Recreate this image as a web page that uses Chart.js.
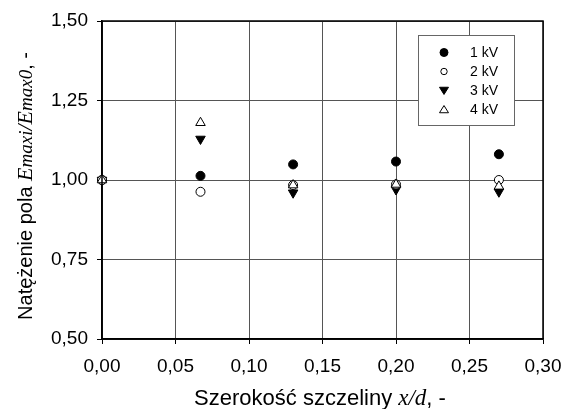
<!DOCTYPE html>
<html>
<head>
<meta charset="utf-8">
<script src="https://cdn.jsdelivr.net/npm/chart.js@4/dist/chart.umd.min.js"></script>
<style>
    body { margin: 0; background: #fff; }
    #wrap { width: 564px; height: 409px; }
</style>
</head>
<body>
<div id="wrap"><canvas id="fieldChart" width="564" height="409"></canvas></div>
<script>
// Gap width x/d and relative field strength for each voltage
const gapWidth = [0, 0.067, 0.13, 0.2, 0.27];
const kv1 = [1.00, 1.013, 1.049, 1.058, 1.081];
const kv2 = [1.00, 0.963, 0.984, 0.986, 1.00];
const kv3 = [1.00, 1.129, 0.960, 0.970, 0.963];
const kv4 = [1.00, 1.180, 0.984, 0.986, 0.980];
const seriesLabels = ['1 kV', '2 kV', '3 kV', '4 kV'];

const sans = "'Liberation Sans', Arial, sans-serif";
const serif = "'Liberation Serif', 'Times New Roman', serif";

// order: open markers are drawn over filled ones
const markers = [
    { pointStyle: 'circle', rotation: 0, fill: '#000', radius: 4.5, order: 4, legendR: 4 },
    { pointStyle: 'circle', rotation: 0, fill: '#fff', radius: 4.5, order: 2, legendR: 3.2 },
    { pointStyle: 'triangle', rotation: 180, fill: '#000', radius: 5.5, order: 3, legendR: 4.5 },
    { pointStyle: 'triangle', rotation: 0, fill: '#fff', radius: 5.5, order: 1, legendR: 4.5 }
];

function toPoints(values) {
    return values.map((v, i) => ({ x: gapWidth[i], y: v }));
}

const comma = v => v.toFixed(2).replace('.', ',');

// Draw a sequence of text runs with their own fonts, centred on x
function drawRuns(ctx, runs, x, y) {
    let total = 0;
    runs.forEach(r => { ctx.font = r.font; total += ctx.measureText(r.text).width; });
    let cx = x - total / 2;
    runs.forEach(r => {
        ctx.font = r.font;
        ctx.fillText(r.text, cx, y);
        cx += ctx.measureText(r.text).width;
    });
}

function drawMarker(ctx, m, x, y, r) {
    ctx.save();
    ctx.fillStyle = m.fill;
    ctx.strokeStyle = '#000';
    ctx.lineWidth = 1;
    ctx.beginPath();
    if (m.pointStyle === 'circle') {
        ctx.arc(x, y, r, 0, Math.PI * 2);
    } else {
        const dir = m.rotation === 180 ? -1 : 1;
        const h = r * 1.6;
        ctx.moveTo(x, y - dir * h * 0.55);
        ctx.lineTo(x - r, y + dir * h * 0.45);
        ctx.lineTo(x + r, y + dir * h * 0.45);
        ctx.closePath();
    }
    ctx.fill();
    ctx.stroke();
    ctx.restore();
}

const framePlugin = {
    id: 'frameAndText',
    afterDraw(chart) {
        const ctx = chart.ctx;
        const a = chart.chartArea;
        ctx.save();
        // frame
        ctx.strokeStyle = '#000';
        ctx.lineWidth = 1.5;
        ctx.strokeRect(a.left, a.top, a.right - a.left, a.bottom - a.top);

        // legend box
        const lx = 418, ly = 35, lw = 96, lh = 90;
        ctx.fillStyle = '#fff';
        ctx.fillRect(lx, ly, lw, lh);
        ctx.strokeStyle = '#666';
        ctx.lineWidth = 1;
        ctx.strokeRect(lx + 0.5, ly + 0.5, lw, lh);
        ctx.textBaseline = 'middle';
        ctx.textAlign = 'left';
        ctx.font = '14px ' + sans;
        seriesLabels.forEach((lab, i) => {
            const yy = 52.5 + i * 19;
            drawMarker(ctx, markers[i], 444, yy, markers[i].legendR);
            ctx.fillStyle = '#000';
            ctx.fillText(lab, 470, yy + 1);
        });

        // axis titles
        ctx.fillStyle = '#000';
        ctx.textAlign = 'left';
        ctx.textBaseline = 'alphabetic';
        drawRuns(ctx, [
            { text: 'Szerokość szczeliny ', font: '22px ' + sans },
            { text: 'x/d', font: 'italic 23px ' + serif },
            { text: ', -', font: '22px ' + sans }
        ], 320, 405);

        ctx.translate(32, 186);
        ctx.rotate(-Math.PI / 2);
        drawRuns(ctx, [
            { text: 'Natężenie pola ', font: '20px ' + sans },
            { text: 'E', font: 'italic 22px ' + serif },
            { text: 'maxi', font: 'italic 19px ' + serif },
            { text: '/E', font: 'italic 22px ' + serif },
            { text: 'max0', font: 'italic 19px ' + serif },
            { text: ', -', font: '20px ' + sans }
        ], 0, 0);
        ctx.restore();
    }
};

const datasets = [kv1, kv2, kv3, kv4].map((vals, i) => ({
    label: seriesLabels[i],
    data: toPoints(vals),
    showLine: false,
    order: markers[i].order,
    clip: 10,
    pointStyle: markers[i].pointStyle,
    rotation: markers[i].rotation,
    pointRadius: markers[i].radius,
    pointHoverRadius: markers[i].radius,
    backgroundColor: markers[i].fill,
    borderColor: '#000',
    borderWidth: 1
}));

new Chart(document.getElementById('fieldChart').getContext('2d'), {
    type: 'scatter',
    data: { datasets },
    options: {
        responsive: false,
        animation: false,
        layout: { padding: { left: 0, right: 21, top: 21, bottom: 0 } },
        plugins: {
            legend: { display: false },
            tooltip: { enabled: false }
        },
        scales: {
            x: {
                type: 'linear',
                min: 0,
                max: 0.3,
                afterFit: s => {
                    s.height = 70;
                    s.paddingLeft = 0;
                    s.paddingRight = 0;
                },
                ticks: {
                    stepSize: 0.05,
                    padding: 11,
                    color: '#000',
                    font: { family: sans, size: 19 },
                    callback: v => comma(v)
                },
                grid: { color: '#555', lineWidth: 1, tickLength: 5, tickColor: '#000' },
                border: { color: '#000', width: 1.5 }
            },
            y: {
                min: 0.5,
                max: 1.5,
                afterFit: s => {
                    s.width = 102;
                    s.paddingTop = 0;
                    s.paddingBottom = 0;
                },
                ticks: {
                    stepSize: 0.25,
                    padding: 9,
                    color: '#000',
                    font: { family: sans, size: 19 },
                    callback: v => comma(v)
                },
                grid: { color: '#555', lineWidth: 1, tickLength: 5, tickColor: '#000' },
                border: { color: '#000', width: 1.5 }
            }
        }
    },
    plugins: [framePlugin]
});
</script>
</body>
</html>
